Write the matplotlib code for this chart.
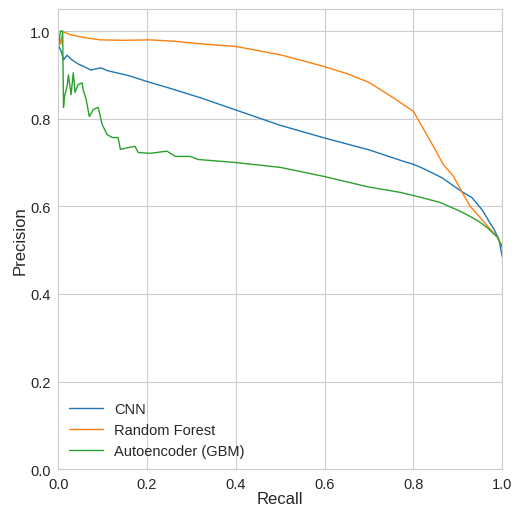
import matplotlib
matplotlib.use("Agg")
import matplotlib.pyplot as plt
import seaborn as sns

sns.set_style("whitegrid")
plt.rcParams['font.family'] = ['Liberation Sans', 'DejaVu Sans']

labels = ["CNN", "Random Forest", "Autoencoder (GBM)"]
colors = ["#1f77b4", "#ff7f0e", "#2ca02c"]

cnn_recall = [0.0, 0.004, 0.008, 0.012, 0.02, 0.03, 0.045, 0.06, 0.074, 0.085, 0.097, 0.11, 0.135, 0.16,
              0.203, 0.25, 0.323, 0.4, 0.5, 0.6, 0.7, 0.774, 0.8, 0.819, 0.865, 0.91, 0.932,
              0.955, 0.971, 0.982, 0.993, 1.0]
cnn_precision = [0.97, 0.96, 0.95, 0.934, 0.945, 0.935, 0.925, 0.918, 0.911, 0.914, 0.916, 0.91, 0.904, 0.898,
                 0.884, 0.87, 0.847, 0.82, 0.785, 0.756, 0.729, 0.704, 0.696, 0.688, 0.665, 0.633, 0.62,
                 0.592, 0.565, 0.547, 0.524, 0.486]

rf_recall = [0.0, 0.003, 0.006, 0.01, 0.027, 0.06, 0.095, 0.15, 0.207, 0.26, 0.32, 0.4, 0.5, 0.6, 0.65,
             0.7, 0.75, 0.8, 0.849, 0.867, 0.89, 0.91, 0.928, 0.95, 0.973, 0.989, 1.0]
rf_precision = [0.96, 0.985, 0.97, 0.999, 0.992, 0.985, 0.98, 0.979, 0.98, 0.977, 0.971, 0.965, 0.946, 0.919, 0.903,
                0.883, 0.851, 0.817, 0.73, 0.696, 0.669, 0.632, 0.6, 0.575, 0.548, 0.53, 0.509]

gbm_recall = [0.0, 0.005, 0.01, 0.012, 0.014, 0.02, 0.023, 0.029, 0.034, 0.038, 0.045, 0.054, 0.056, 0.063,
              0.07, 0.079, 0.09, 0.099, 0.11, 0.122, 0.135, 0.14, 0.162, 0.173, 0.18, 0.207, 0.245,
              0.264, 0.297, 0.315, 0.4, 0.5, 0.6, 0.7, 0.77, 0.815, 0.86, 0.905, 0.928, 0.95,
              0.968, 0.989, 1.0]
gbm_precision = [0.96, 1.0, 1.0, 0.826, 0.85, 0.874, 0.9, 0.855, 0.905, 0.86, 0.878, 0.882, 0.867, 0.844,
                 0.805, 0.821, 0.826, 0.787, 0.764, 0.757, 0.757, 0.73, 0.735, 0.737, 0.723, 0.721, 0.726,
                 0.714, 0.714, 0.707, 0.70, 0.689, 0.668, 0.644, 0.632, 0.621, 0.609, 0.589, 0.577, 0.564,
                 0.55, 0.53, 0.507]

fig = plt.figure(figsize=(5.15, 5.10), dpi=100)
ax = fig.add_axes([0.113, 0.078, 0.862, 0.902])
series = [(cnn_recall, cnn_precision), (rf_recall, rf_precision), (gbm_recall, gbm_precision)]
for (r, p), lab, c in zip(series, labels, colors):
    ax.plot(r, p, color=c, lw=1.0, label=lab)

ax.set_xlim(0, 1)
ax.set_ylim(0, 1.05)
ax.set_xticks([0, 0.2, 0.4, 0.6, 0.8, 1.0])
ax.set_yticks([0, 0.2, 0.4, 0.6, 0.8, 1.0])
ax.tick_params(labelsize=10.5, pad=2)
ax.set_xlabel("Recall", fontsize=12, labelpad=0)
ax.set_ylabel("Precision", fontsize=12, labelpad=2)
ax.legend(loc="lower left", fontsize=10.5, frameon=False, borderaxespad=0.35, handlelength=2.3)
fig.savefig("out.png", dpi=100)
